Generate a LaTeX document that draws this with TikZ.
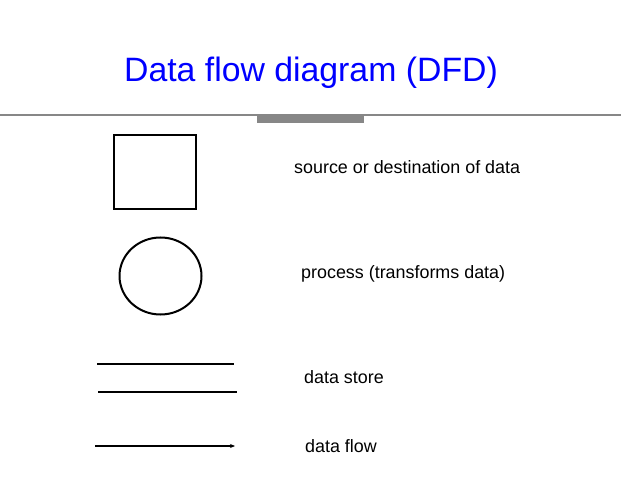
\documentclass[tikz,border=0pt]{standalone}
\usepackage{fontspec}
\setmainfont{Liberation Sans}
\usetikzlibrary{arrows.meta,shapes.geometric}
\begin{document}
\begin{tikzpicture}[x=1pt,y=-1pt,
  sym/.style={draw=black,line width=2pt},
  lbl/.style={anchor=west,inner sep=0pt,font=\fontsize{17.9}{20}\selectfont},
  bar/.style={fill=black!47,draw=none}]
\useasboundingbox[fill=white] (0,0) rectangle (621,478);
\node[text=blue,font=\fontsize{33.8}{40}\selectfont,inner sep=0pt] (title) at (311,72.5) {Data flow diagram (DFD)};
\draw[black!47,line width=1.8pt] (0,115) -- (621,115);
\fill[bar] (257,115) rectangle (364,123);
\node[sym,minimum width=82pt,minimum height=74pt,inner sep=0pt] (src) at (154.5,172.5) {};
\node[sym,ellipse,minimum width=82pt,minimum height=77pt,inner sep=0pt] (proc) at (160.5,276) {};
\coordinate (s1a) at (97,364); \coordinate (s1b) at (234,364);
\coordinate (s2a) at (98,392); \coordinate (s2b) at (237,392);
\draw[sym] (s1a) -- (s1b);
\draw[sym] (s2a) -- (s2b);
\coordinate (fa) at (95,446); \coordinate (fb) at (235,446);
\draw[sym,-{Stealth[length=5pt,width=4pt]}] (fa) -- (fb);
\node[lbl] (l1) at (294,167) {source or destination of data};
\node[lbl] (l2) at (301,274) {process (transforms data)};
\node[lbl] (l3) at (304,377) {data store};
\node[lbl] (l4) at (305,446) {data flow};
\end{tikzpicture}
\end{document}
